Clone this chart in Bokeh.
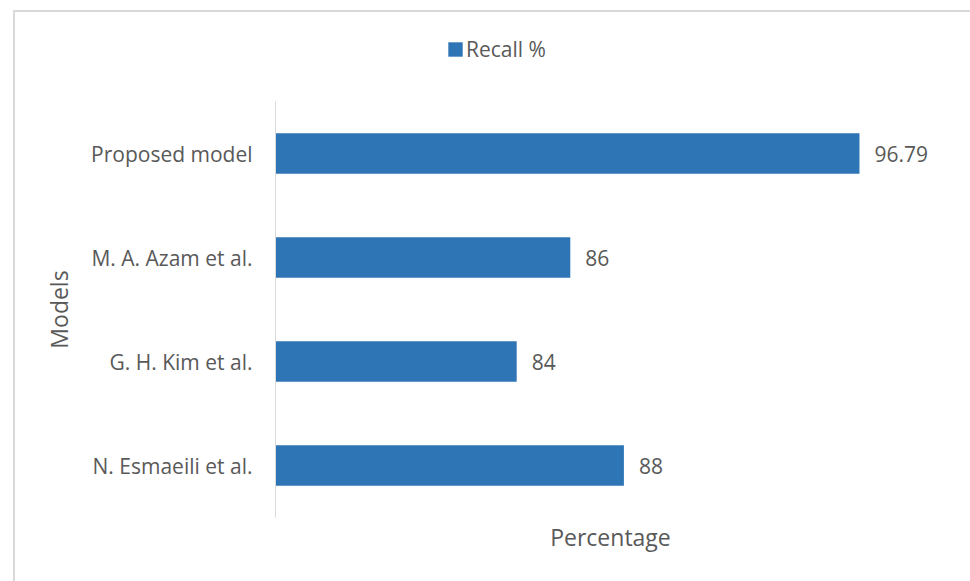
from bokeh.plotting import figure
from bokeh.layouts import column
from bokeh.models import (ColumnDataSource, Range1d, FactorRange, LabelSet,
                          Legend, LegendItem, FixedTicker)
from bokeh.core.properties import value
from bokeh.embed import file_html
from bokeh.resources import INLINE

# ---- data ----
models = ["N. Esmaeili et al.", "G. H. Kim et al.", "M. A. Azam et al.", "Proposed model"]
recall = [88, 84, 86, 96.79]
recall_text = ["88", "84", "86", "96.79"]
series_name = "Recall %"
x_axis_title = "Percentage"
y_axis_title = "Models"
x_start, x_end = 75, 100

BAR = "#2E75B6"
TXT = "#595959"
FONT = "Open Sans"

src = ColumnDataSource(dict(model=models, value=recall, label=recall_text,
                            base=[x_start] * len(models)))

# ---- legend strip (top) ----
leg = figure(width=955, height=89, output_backend="svg", toolbar_location=None,
             x_axis_type=None, y_axis_type=None,
             x_range=Range1d(0, 1), y_range=Range1d(0, 1),
             min_border_left=0, min_border_right=0, min_border_top=0,
             min_border_bottom=0)
leg.outline_line_color = None
leg.xgrid.visible = False
leg.ygrid.visible = False
# invisible proxy renderer (same data) that only supplies the legend swatch
leg_r = leg.hbar(y="value", left="base", right="value", height=0.5, source=src,
                 fill_color=BAR, line_color=None, visible=False)
legend = Legend(items=[LegendItem(label=series_name, renderers=[leg_r])],
                location=(171, 38), orientation="horizontal",
                glyph_width=18, glyph_height=18, label_standoff=2,
                label_text_font=FONT, label_text_font_size="21px",
                label_text_color=TXT, border_line_color=None,
                background_fill_alpha=0, padding=0, margin=0,
                inactive_fill_alpha=0)
leg.add_layout(legend, "center")

# ---- main chart ----
p = figure(width=955, height=480, output_backend="svg", toolbar_location=None,
           y_range=FactorRange(factors=models), x_range=Range1d(x_start, x_end),
           min_border_left=260, min_border_right=25, min_border_top=0,
           min_border_bottom=64)
p.outline_line_color = None
p.xgrid.visible = False
p.ygrid.visible = False

r = p.hbar(y="model", left="base", right="value", height=0.39, source=src,
           fill_color=BAR, line_color=None)

labels = LabelSet(x="value", y="model", text="label", source=src, x_offset=15,
                  text_baseline="middle", text_align="left",
                  text_font_size=value("21px"), text_color=value(TXT),
                  text_font=value(FONT))
p.add_layout(labels)

# y axis
ya = p.yaxis[0]
ya.axis_line_color = "#D9D9D9"
ya.axis_line_width = 1
ya.major_tick_line_color = None
ya.minor_tick_line_color = None
ya.major_tick_out = 0
ya.major_tick_in = 0
ya.major_label_standoff = 23
ya.major_label_text_font = FONT
ya.major_label_text_font_size = "21px"
ya.major_label_text_color = TXT
ya.axis_label = y_axis_title
ya.axis_label_text_font = FONT
ya.axis_label_text_font_size = "23px"
ya.axis_label_text_font_style = "normal"
ya.axis_label_text_color = TXT
ya.axis_label_standoff = 13

# x axis
xa = p.xaxis[0]
xa.ticker = FixedTicker(ticks=[])
xa.axis_line_color = None
xa.major_tick_line_color = None
xa.minor_tick_line_color = None
xa.major_label_text_font_size = "0px"
xa.axis_label = x_axis_title
xa.axis_label_text_font = FONT
xa.axis_label_text_font_size = "23px"
xa.axis_label_text_font_style = "normal"
xa.axis_label_text_color = TXT
xa.axis_label_standoff = 3

page = column(leg, p, spacing=0)
page.styles = {"margin-left": "13px", "margin-top": "10px",
               "border-left": "2px solid #D9D9D9", "border-top": "2px solid #D9D9D9",
               "background-color": "white"}

open("out.html", "w").write(file_html(page, INLINE))
